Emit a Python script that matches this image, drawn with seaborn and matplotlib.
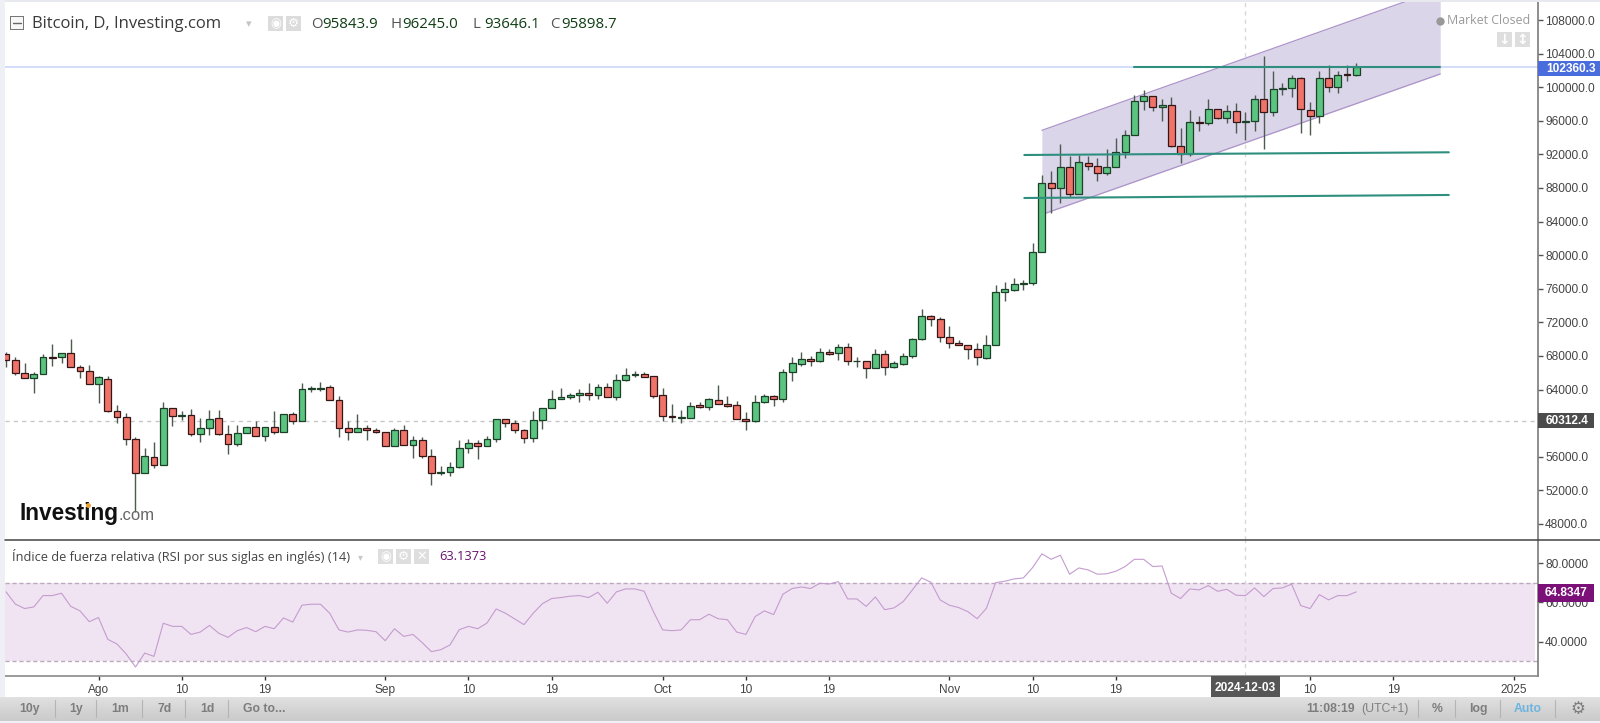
import numpy as np
import pandas as pd
import matplotlib
matplotlib.use("Agg")
import matplotlib.pyplot as plt
from matplotlib.patches import Rectangle
import seaborn as sns

# ---------- data ----------
first_day = -10  # day offset from 1 Aug 2024
opens = [68200,67520,65940,65420,65820,67920,67920,68320,66730,66220,64630,65300,61490,60700,58080,54030,56020,55060,61770,60820,
 60940,58760,59390,60580,58720,57570,58870,59510,58480,59510,58990,61100,60300,64070,64110,64270,62800,59390,58990,59390,
 59190,58990,57290,59150,57450,57960,56100,54030,54150,54790,57050,57680,57290,58080,60540,60070,59150,58200,60340,61770,
 62920,63160,63320,63560,63320,64270,63160,65180,65780,65820,65580,63320,60860,60660,60660,62130,61970,62800,62250,62130,
 60540,60260,62520,63200,62920,66060,67090,67640,67360,68440,68400,69070,67360,67360,66610,68200,66730,67090,68040,69980,
 72760,72360,70260,69510,69350,68830,67760,69350,75660,75900,76570,76690,80380,88640,87960,90460,87330,90940,90580,89790,
 90460,92290,94270,98360,98950,97680,97920,93040,92010,95820,95700,97410,96370,97130,95820,95940,98560,97010,99750,99900,
 101060,97290,96610,101100,100020,101530,101490]
highs = [68440,67840,67130,66140,68240,69430,68320,70060,66930,66890,65620,65620,62170,61180,58400,57050,57720,62560,61770,61410,
 61650,60620,61570,61530,59790,59790,59510,60300,59510,61410,61060,61370,64830,64470,64950,64510,63240,60260,61140,59790,
 59390,58990,59390,59830,58480,58320,56890,54910,55340,57960,58080,58000,58480,60540,60540,60340,59310,61410,61770,63910,
 64150,63640,64030,64830,64670,64830,65860,66530,66250,66100,65580,64150,62290,61570,62480,62480,63000,64550,63240,62640,
 61370,63360,63480,63360,66490,67840,68480,68000,68990,68800,69430,69510,67840,67360,68870,68710,67400,68320,70140,73560,
 72920,72680,71610,69900,69350,69510,70540,76450,76850,77250,77050,81450,89550,89990,93240,91810,91890,91810,91570,92600,
 93910,94910,99030,99670,98950,98560,98870,95100,97290,96570,98600,97410,97840,98080,97090,99030,103710,101890,100460,101410,
 101250,98240,101890,102600,101890,102640,102850]
lows = [66730,65700,65340,63560,65820,66850,67210,66730,65420,64630,62370,61330,60070,57410,49470,54030,54670,54990,59630,60380,
 58480,57800,58600,58600,56340,57290,58870,58480,57920,58720,58990,59910,60300,63680,63870,62800,58320,58000,58990,57960,
 58830,57290,57290,57450,55820,55820,52680,53840,53760,54630,56490,55700,57290,57800,59590,58800,57640,57800,59310,61770,
 62920,62920,62490,62760,62920,63080,62760,64980,65540,65540,63040,60300,60180,59980,60580,61850,61570,62250,61970,60460,
 59190,60180,62450,62090,62480,64980,66810,66810,67250,68160,67480,66930,66730,65380,66610,65740,66570,66970,67720,69900,
 71570,69710,68910,69270,67600,66930,67640,69350,74590,75780,75860,76500,80380,85070,86260,86890,87330,90140,88870,89510,
 90460,91610,94270,97290,97210,95940,92920,90940,91850,94750,95540,96180,95780,94590,93710,94750,92680,96610,99110,98790,
 94510,94350,95780,99470,99350,100780,101330]
closes = [67520,65940,65420,65820,67920,67760,68320,66730,66220,64630,65460,61490,60700,58080,54030,56100,55060,61770,60820,60980,
 58760,59390,60540,58760,57570,58870,59510,58480,59510,58990,61060,60300,64110,64150,64230,62800,59390,58990,59390,59150,
 58990,57290,59150,57450,57960,56100,54030,54150,54790,57010,57680,57290,58080,60540,60070,59150,58200,60340,61770,62920,
 63160,63320,63560,63320,64270,63160,65140,65780,65860,65540,63280,60820,60700,60700,62010,61970,62840,62250,62090,60540,
 60260,62520,63200,62920,66060,67130,67640,67360,68440,68280,69070,67360,67400,66610,68200,66730,67130,68040,70020,72760,
 72360,70260,69510,69310,68830,67920,69350,75660,75940,76570,76690,80380,88640,87960,90460,87330,91130,90580,89790,90460,
 92290,94270,98360,98950,97680,97920,93040,92010,95820,95700,97410,96370,97130,95820,95940,98560,97010,99750,99900,101100,
 97410,96610,101100,100020,101490,101450,102360]
rsi = [65.4,59.2,56.9,57.7,63.5,63.5,64.7,58.0,55.7,50.2,52.3,41.2,38.8,33.7,27.1,34.2,32.5,49.4,47.8,47.8,
 43.7,44.9,48.3,44.3,42.2,45.6,47.2,45.1,47.8,46.6,52.1,50.0,58.6,59.1,59.1,54.5,46.0,44.9,46.0,45.8,
 45.1,40.5,46.6,42.7,43.7,39.5,34.9,35.9,38.3,46.1,47.8,46.6,49.5,56.7,54.5,51.6,48.7,54.5,59.4,62.0,
 62.5,63.2,63.5,62.5,65.2,59.6,65.4,66.9,66.9,65.7,55.3,46.0,45.6,46.0,51.2,51.2,54.0,51.7,51.2,44.9,
 43.7,52.8,55.7,53.8,64.2,67.1,67.9,67.1,69.8,69.4,70.6,61.8,61.8,58.0,62.8,56.3,57.2,60.4,66.4,72.5,
 70.3,61.3,58.6,57.4,55.3,51.7,57.0,70.1,70.8,72.0,72.5,77.8,84.8,82.0,84.1,74.4,77.6,76.6,74.4,74.6,
 75.9,78.3,82.0,82.0,78.3,78.6,64.7,62.0,66.9,66.4,68.6,65.7,66.7,63.7,63.5,67.4,63.0,67.1,67.4,69.3,
 58.4,56.9,64.0,61.3,63.5,63.5,65.4]
tick_days = [0,9,18,31,40,49,61,70,79,92,101,110,131,140,153]
tick_labels = ['Ago','10','19','Sep','10','19','Oct','10','19','Nov','10','19','10','19','2025']
price_ticks = list(range(48000,112000,4000))
rsi_ticks = [40,60,80]
channel_days = [102.0,145.07]
channel_low = [84845,101571]
channel_high = [94865,111667]
level_days = [[112.0,145.07],[100.1,146.0],[100.1,146.0]]
level_prices = [[102405,102405],[91930,92250],[86810,87170]]
cursor_day = 124
last_price = 102360.3
ref_price = 60312.4
last_rsi = 64.8347

# ---------- layout ----------
W,H = 1600,723
sns.set_style("white")
plt.rcParams['font.family'] = ['Liberation Sans','DejaVu Sans']
fig = plt.figure(figsize=(W/100,H/100),dpi=100,facecolor='white')
def fx(p): return p/W
def fy(p): return 1-p/H
L,R,T,M,B = 5,1537.6,2,539.5,675.7
ax = fig.add_axes([fx(L),fy(M),fx(R-L),fy(T)-fy(M)])
ax2 = fig.add_axes([fx(L),fy(B),fx(R-L),fy(M)-fy(B)],sharex=ax)
days = np.arange(len(opens))+first_day
df = pd.DataFrame(dict(day=days,o=opens,h=highs,l=lows,c=closes,rsi=rsi))
GREEN,RED = '#5cc481','#f0736a'

# ---------- price panel ----------
ax.set_xlim(-10.11,155.6)
ax.set_ylim(46153,110143)
ax.axhline(ref_price,color='#c8c8c8',lw=1,ls=(0,(3,3)),zorder=1)
ax.axhline(last_price,color='#c9d5f6',lw=1.1,zorder=1)
ax.axvline(cursor_day,color='#d8d8d8',lw=1,ls=(0,(3,3)),zorder=1)
ax.fill_between(channel_days,channel_low,channel_high,color='#dad5e9',lw=0,zorder=1.5)
ax.plot(channel_days,channel_low,color='#ad93c9',lw=0.9,zorder=1.6)
ax.plot(channel_days,channel_high,color='#ad93c9',lw=0.9,zorder=1.6)
up = df.c>=df.o
ax.vlines(df.day,df.l,df.h,color='#4d5a50',lw=1,zorder=2)
ax.bar(df.day[up],(df.c-df.o)[up],bottom=df.o[up],width=0.74,color=GREEN,edgecolor='#1c4028',lw=0.9,zorder=3)
ax.bar(df.day[~up],(df.o-df.c)[~up],bottom=df.c[~up],width=0.74,color=RED,edgecolor='#331616',lw=0.9,zorder=3)
for d,p in zip(level_days,level_prices):
    sns.lineplot(x=d,y=p,ax=ax,color='#2f8f7e',lw=1.5,zorder=4,legend=False,errorbar=None,sort=False)

# ---------- RSI panel ----------
ax2.set_ylim(22.65,92.1)
ax2.fill_between([-10.11,155.3],30,70,color='#f0e4f2',lw=0,zorder=1)
ax2.axhline(70,color='#bda9bd',lw=1,ls=(0,(3,2)),zorder=2)
ax2.axhline(30,color='#bda9bd',lw=1,ls=(0,(3,2)),zorder=2)
ax2.axvline(cursor_day,color='#d8d8d8',lw=1,ls=(0,(3,3)),zorder=2)
sns.lineplot(data=df,x='day',y='rsi',ax=ax2,color='#c49ccf',lw=0.8,zorder=3,legend=False,errorbar=None)

# ---------- axes ----------
for a in (ax,ax2):
    a.set_xlabel(''); a.set_ylabel('')
    a.yaxis.tick_right()
    for s in ('top','left'): a.spines[s].set_visible(False)
    a.spines['right'].set_color('#7a7a7a'); a.spines['right'].set_linewidth(1.2)
    a.tick_params(axis='y',length=3.5,width=1,color='#555',labelcolor='#444',labelsize=8.6,pad=2,right=True)
ax.spines['bottom'].set_visible(False)
ax2.spines['bottom'].set_color('#8a8a8a'); ax2.spines['bottom'].set_linewidth(1.2)
ax.set_yticks(price_ticks)
# the 60000.0 label sits behind the flag of the reference price, so it stays blank
ax.set_yticklabels(['' if t==60000 else f'{t:.1f}' for t in price_ticks])
ax2.set_yticks(rsi_ticks)
ax2.set_yticklabels([f'{t:.4f}' for t in rsi_ticks])
ax.tick_params(axis='x',bottom=False,labelbottom=False)
ax2.set_xticks(tick_days)
ax2.set_xticklabels(tick_labels)
ax2.tick_params(axis='x',length=3,width=1,color='#333',labelcolor='#444',labelsize=8.6,pad=3.2,bottom=True)

# separator across the whole width
fig.add_artist(plt.Line2D([fx(L),1],[fy(M),fy(M)],color='#444',lw=1.1,transform=fig.transFigure))

def box(x0,y0,x1,y1,color,z=5):
    fig.add_artist(Rectangle((fx(x0),fy(y1)),fx(x1-x0),fy(y0)-fy(y1),color=color,lw=0,transform=fig.transFigure,zorder=z))
def label(x,y,s,**k):
    k.setdefault('va','center'); k.setdefault('ha','left'); k.setdefault('zorder',7)
    return fig.text(fx(x),fy(y),s,**k)

# page edges
box(0,0,1600,2,'#e8e9ef',1); box(0,0,5,723,'#eef0f6',1)

# value flags
box(1538,61,1600,76,'#4a6ddd')
label(1546,68.5,f'{last_price:.1f}',color='white',fontsize=8.6,fontweight='bold')
box(1538,413,1594,428,'#4b4b4b')
label(1546,420.5,f'{ref_price:.1f}',color='white',fontsize=8.6,fontweight='bold')
box(1538,584,1594,602,'#7a1078')
label(1545,593,f'{last_rsi:.4f}',color='white',fontsize=8.6,fontweight='bold')
box(1210.5,676,1280,697,'#565656')
label(1245.5,688,'2024-12-03',color='white',fontsize=8.6,ha='center',fontweight='bold')

# toolbar
tb = fig.add_axes([0,fy(721),1,fy(697)-fy(721)],zorder=6)
tb.imshow(np.linspace(0.875,0.79,24)[:,None],aspect='auto',cmap='gray',vmin=0,vmax=1,extent=(0,1,0,1))
tb.axis('off')
box(0,721,1600,723,'#eef0f6',1)
GT = dict(color='#7d7d7d',fontsize=8.8,fontweight='bold',ha='center')
for x,s in zip([30,76,120,164.6,207.6,264],['10y','1y','1m','7d','1d','Go to...']):
    label(x,709,s,**GT)
for x in [1418,1455,1500,1555,55,96,142,185,228]:
    fig.add_artist(plt.Line2D([fx(x),fx(x)],[fy(700),fy(717)],color='#b4b4b4',lw=0.8,zorder=7,transform=fig.transFigure))
label(1306,709,'11:08:19',**{**GT,'ha':'left'})
label(1361,709,'(UTC+1)',color='#808080',fontsize=8.8)
label(1436.7,709,'%',**GT)
label(1478,709,'log',**GT)
label(1528,709,'Auto',**{**GT,'color':'#6db5e0'})
label(1578,709,'⚙',color='#7d7d7d',fontsize=12,ha='center',family='DejaVu Sans')

# header
HF = ['Open Sans','DejaVu Sans']
box(10,16,24,30,'#777777',8); box(11,17,23,29,'#f7f7f7',8)
fig.add_artist(plt.Line2D([fx(13),fx(21)],[fy(23),fy(23)],color='#666',lw=1,zorder=9,transform=fig.transFigure))
label(32,24,'Bitcoin, D, Investing.com',color='#3a3a3a',fontsize=12.0,family=HF)
label(246,24,'▾',color='#c4c4c4',fontsize=8,family='DejaVu Sans')
for x in (268,286):
    box(x,16,x+15,31,'#dcdcdc',8)
label(275.5,23.5,'◉',color='white',fontsize=9,ha='center',family='DejaVu Sans',zorder=9)
label(293.5,23.5,'⚙',color='white',fontsize=9,ha='center',family='DejaVu Sans',zorder=9)
for x,k,v in [(311,'O','95843.9'),(391,'H','96245.0'),(472.6,'L','93646.1'),(550,'C','95898.7')]:
    label(x,24,k,color='#555',fontsize=10.8,family=HF)
    label(x+11.5,24,v,color='#0e3d14',fontsize=10.8,family=HF)

# market closed
fig.add_artist(plt.Line2D([fx(1440)],[fy(21)],marker='o',ms=5,color='#999',transform=fig.transFigure,zorder=7))
label(1447,21,'Market Closed',color='#9a9a9a',fontsize=8.9,family=HF)
for x,s in ((1497,'↓'),(1515,'↕')):
    box(x,32,x+15,47,'#dedede')
    label(x+7.5,39.5,s,color='white',fontsize=10,ha='center',family='DejaVu Sans',fontweight='bold')

# RSI title
label(12,556.8,'Índice de fuerza relativa (RSI por sus siglas en inglés) (14)',color='#444',fontsize=9.2,family=HF)
label(358,556.8,'▾',color='#c8c8c8',fontsize=7,family='DejaVu Sans')
for x in (378,396,414):
    box(x,549,x+15,564,'#dedede',8)
label(385.5,556.5,'◉',color='white',fontsize=9,ha='center',family='DejaVu Sans',zorder=9)
label(403.5,556.5,'⚙',color='white',fontsize=9,ha='center',family='DejaVu Sans',zorder=9)
label(421.5,556.5,'✕',color='white',fontsize=9,ha='center',family='DejaVu Sans',zorder=9)
label(439.5,556.8,'63.1373',color='#6a1070',fontsize=9.2,family=HF)

# watermark
label(19.5,513.5,'Investing',color='#111',fontsize=16.3,fontweight='bold',family='Liberation Sans')
label(119,516,'.com',color='#666',fontsize=12,family='Liberation Sans')
fig.add_artist(plt.Line2D([fx(87.5)],[fy(505)],marker='o',ms=2.5,color='#f0a030',transform=fig.transFigure,zorder=8))

fig.savefig('out.png',dpi=100,facecolor='white')
